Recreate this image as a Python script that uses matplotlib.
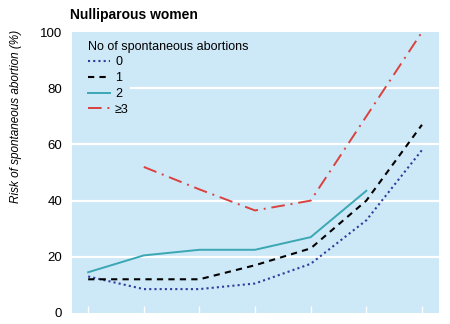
import matplotlib
matplotlib.use("Agg")
import matplotlib.pyplot as plt

plt.rcParams['font.family'] = ['Liberation Sans Narrow', 'Liberation Sans', 'DejaVu Sans']

# Risk of spontaneous abortion by age group position (0..6), per number of previous abortions
x = [0, 1, 2, 3, 4, 5, 6]
risk_0 = [13, 8.5, 8.5, 10.5, 17.5, 33, 58]
risk_1 = [12, 12, 12, 17, 23, 40, 67]
x_2 = [0, 1, 2, 3, 4, 5]
risk_2 = [14.5, 20.5, 22.5, 22.5, 27, 43.5]
x_3 = [1, 2, 3, 4, 5, 6]
risk_3 = [52, 44, 36.5, 40, 70, 100]
y_ticks = [0, 20, 40, 60, 80, 100]

bg = '#cde8f7'

fig = plt.figure(figsize=(4.5, 3.24), dpi=100)
ax = fig.add_axes([0.16, 0.034, 0.816, 0.867])
ax.set_facecolor(bg)

# white gridlines; the one at 80 stops short of the legend entries
for yv in y_ticks[1:-1]:
    ax.axhline(yv, xmin=0.16 if yv == 80 else 0, color='white', lw=1.6, zorder=0.5)

ax.plot(x, risk_0, color='#2e3d9c', linestyle=(0, (1, 1.5)), lw=1.5, label='0')
ax.plot(x, risk_1, color='black', linestyle=(0, (3, 2.5)), lw=1.5, label='1')
ax.plot(x_2, risk_2, color='#3aa7b3', linestyle='-', lw=1.4, label='2')
ax.plot(x_3, risk_3, color='#d9423f', linestyle=(0, (7, 3, 1, 3)), lw=1.4, label='≥3')

ax.set_xlim(-0.29, 6.31)
ax.set_ylim(0, 100)
ax.set_yticks(y_ticks)
ax.set_xticks(x)
ax.set_xticklabels([])
ax.tick_params(axis='x', direction='in', length=5, color='white', width=1)
ax.tick_params(axis='y', length=0, labelsize=9.5, pad=7)
for s in ax.spines.values():
    s.set_visible(False)

ax.set_ylabel('Risk of spontaneous abortion (%)', fontsize=8.5, style='italic')
ax.yaxis.set_label_coords(-0.135, 0.70)

leg = ax.legend(title='No of spontaneous abortions', loc='upper left',
                bbox_to_anchor=(0.015, 1.005), frameon=False,
                fontsize=9, title_fontsize=9,
                handlelength=1.8, handletextpad=0.4, labelspacing=0.3,
                borderpad=0.3, alignment='left')

fig.text(0.155, 0.94, 'Nulliparous women', fontsize=10, fontweight='bold')

fig.savefig('out.png', dpi=100)
